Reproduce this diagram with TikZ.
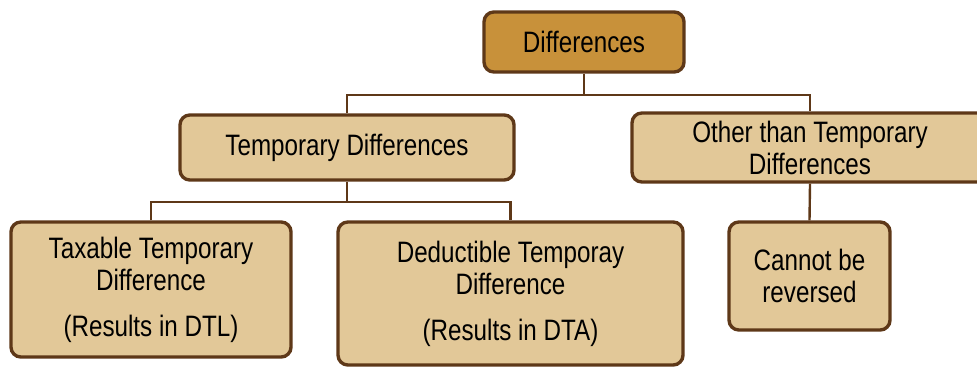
\documentclass[tikz,border=0pt]{standalone}
\usepackage{fontspec}
\setmainfont{Liberation Sans}[FakeStretch=0.82]
\usepackage{tikz}
\usetikzlibrary{calc}
\usetikzlibrary{positioning}
\definecolor{edgebrown}{RGB}{94,56,24}
\definecolor{topfill}{RGB}{200,145,58}
\definecolor{boxfill}{RGB}{226,200,152}

\begin{document}
\begin{tikzpicture}[x=0.025cm, y=-0.025cm, semithick]
    \tikzstyle{box}=[draw=edgebrown, line width=2.4pt, rounded corners=7pt, fill=boxfill,
      align=center, inner sep=0pt, font=\fontsize{21}{22.8}\selectfont]
    \tikzstyle{link}=[draw=edgebrown, line width=1.7pt]
\useasboundingbox (0,0) rectangle (977,367);
\node[box, fill=topfill, minimum width=200*0.025cm, minimum height=60*0.025cm] (diff) at (584,42) {Differences};
\node[box, minimum width=334*0.025cm, minimum height=65*0.025cm] (temp) at (347,147.5) {Temporary Differences};
\node[box, minimum width=356*0.025cm, minimum height=69*0.025cm] (other) at (810,147.5) {Other than Temporary\\Differences};
\node[box, minimum width=280*0.025cm, minimum height=135*0.025cm] (taxable) at (151,289.5) {Taxable Temporary\\Difference\\[10pt](Results in DTL)};
\node[box, minimum width=345*0.025cm, minimum height=143*0.025cm] (deduct) at (510.5,293.5) {Deductible Temporay\\Difference\\[10pt](Results in DTA)};
\node[box, minimum width=161*0.025cm, minimum height=108*0.025cm] (revers) at (809.5,276) {Cannot be\\reversed};
    %junctions
\coordinate (j_top) at (584,95);
\coordinate (j_temp) at (347,202);
\draw[link] (diff.south) -- (j_top);
\draw[link] (temp.north) |- (j_top) -| (other.north);
\draw[link] (temp.south) -- (j_temp);
\draw[link] (taxable.north) |- (j_temp) -| (deduct.north);
\draw[link] (other.south) -- (revers.north);
\end{tikzpicture}
\end{document}
